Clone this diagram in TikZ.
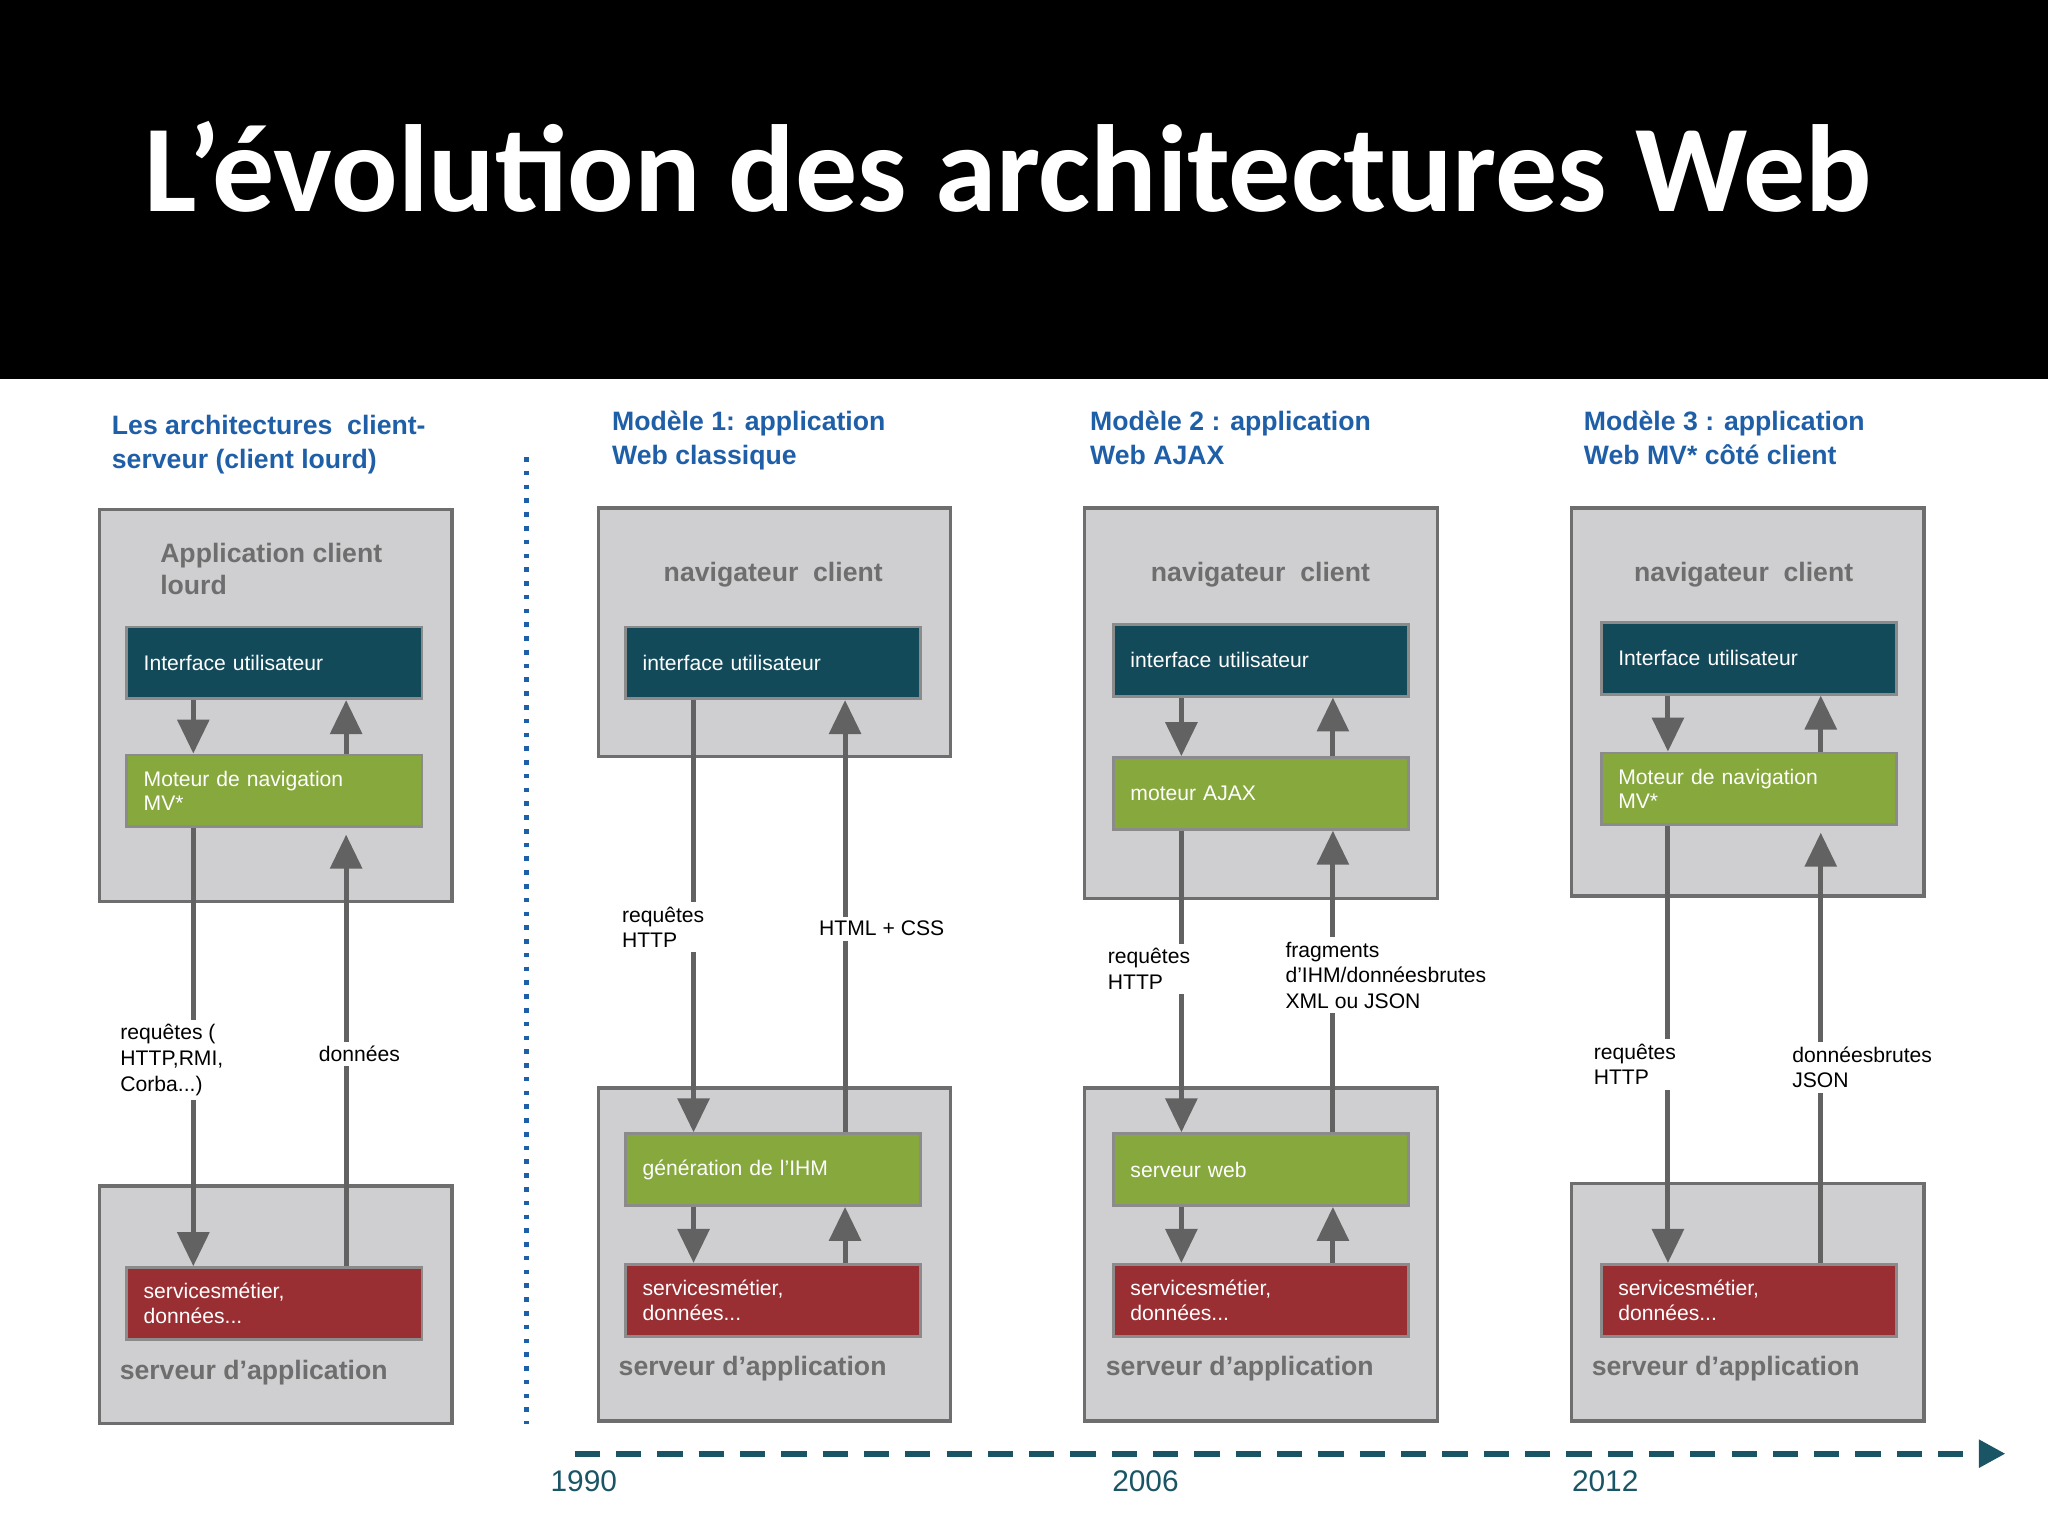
\documentclass[tikz,border=0pt]{standalone}
\usepackage{fontspec}
\setmainfont{Liberation Sans}
\newfontfamily\titlefont{Carlito}
\usetikzlibrary{arrows.meta}
\definecolor{boxgray}{HTML}{CFCFD1}
\definecolor{bordgray}{HTML}{6E6E6E}
\definecolor{ublue}{HTML}{134A5A}
\definecolor{ugreen}{HTML}{86A83C}
\definecolor{ured}{HTML}{9A2F33}
\definecolor{hblue}{HTML}{1F5FA8}
\definecolor{arrgray}{HTML}{626262}
\definecolor{teal}{HTML}{1A5566}
\tikzset{
 outer/.style={draw=bordgray,fill=boxgray,line width=0.7pt,minimum width=2.70cm},
 inner/.style={draw=bordgray!80,line width=0.6pt,minimum width=2.26cm,minimum height=0.55cm,text=white,font=\fontsize{4.6}{5.4}\selectfont,align=left,text width=2.0cm},
 ib/.style={inner,fill=ublue},
 ig/.style={inner,fill=ugreen},
 ir/.style={inner,fill=ured},
 arr/.style={draw=arrgray,line width=1.1pt,-{Triangle[length=2.6mm,width=2.4mm]}},
 lab/.style={fill=white,font=\fontsize{4.6}{5.6}\selectfont,align=left,inner sep=1pt},
 head/.style={anchor=north west,text=hblue,font=\bfseries\fontsize{5.8}{7.4}\selectfont,align=left,inner sep=0pt},
 btitle/.style={text=bordgray,font=\bfseries\fontsize{5.8}{7}\selectfont,align=left,inner sep=0pt},
 year/.style={text=teal,font=\fontsize{6.5}{7}\selectfont}
}
\begin{document}
\begin{tikzpicture}
\useasboundingbox (0,0) rectangle (15.68,11.76);
\fill[white] (0,0) rectangle (15.68,11.76);
\fill[black] (0,8.86) rectangle (15.68,11.76);
\node[text=white,font=\titlefont\bfseries\fontsize{27}{30}\selectfont] (title) at (7.72,10.48) {L’évolution des architectures Web};
% headers
\node[head] (h0) at (0.85,8.59) {Les architectures \ client-\\serveur (client lourd)};
\node[head] (h1) at (4.68,8.62) {Modèle 1: application\\Web classique};
\node[head] (h2) at (8.34,8.62) {Modèle 2 : application\\Web AJAX};
\node[head] (h3) at (12.12,8.62) {Modèle 3 : application\\Web MV* côté client};
\draw[hblue,line width=1pt,dotted] (4.03,8.26) coordinate (d1) -- (4.03,0.86) coordinate (d2);
% column 0
\node[outer,minimum height=3.00cm] (t0) at (2.11,6.36) {};
\node[outer,minimum height=1.82cm] (b0) at (2.11,1.77) {};
\node[btitle,anchor=north west] (tt0) at (1.22,7.61) {Application client\\lourd};
\node[btitle,anchor=west] (bt0) at (0.91,1.25) {serveur d’application};
\node[ib] (u0) at (2.10,6.685) {Interface utilisateur};
\node[ig] (g0) at (2.10,5.705) {Moteur de navigation\\MV*};
\node[ir] (r0) at (2.10,1.78) {servicesmétier,\\données...};
% column 1
\node[outer,minimum height=1.90cm] (t1) at (5.93,6.92) {};
\node[outer,minimum height=2.55cm] (b1) at (5.93,2.155) {};
\node[btitle] (tt1) at (5.92,7.36) {navigateur \ client};
\node[btitle,anchor=west] (bt1) at (4.73,1.28) {serveur d’application};
\node[ib] (u1) at (5.92,6.685) {interface utilisateur};
\node[ig] (g1) at (5.92,2.805) {génération de l'IHM};
\node[ir] (r1) at (5.92,1.805) {servicesmétier,\\données...};
% column 2
\node[outer,minimum height=2.99cm] (t2) at (9.655,6.375) {};
\node[outer,minimum height=2.55cm] (b2) at (9.655,2.155) {};
\node[btitle] (tt2) at (9.65,7.36) {navigateur \ client};
\node[btitle,anchor=west] (bt2) at (8.46,1.28) {serveur d’application};
\node[ib] (u2) at (9.655,6.705) {interface utilisateur};
\node[ig] (g2) at (9.655,5.685) {moteur AJAX};
\node[ig] (s2) at (9.655,2.805) {serveur web};
\node[ir] (r2) at (9.655,1.805) {servicesmétier,\\données...};
% column 3
\node[outer,minimum height=2.97cm] (t3) at (13.38,6.385) {};
\node[outer,minimum height=1.82cm] (b3) at (13.38,1.79) {};
\node[btitle] (tt3) at (13.35,7.36) {navigateur \ client};
\node[btitle,anchor=west] (bt3) at (12.18,1.28) {serveur d’application};
\node[ib] (u3) at (13.39,6.72) {Interface utilisateur};
\node[ig] (g3) at (13.39,5.72) {Moteur de navigation\\MV*};
\node[ir] (r3) at (13.39,1.805) {servicesmétier,\\données...};
% arrows
\draw[arr] ([xshift=-6.2mm]u0.south) -- ([xshift=-6.2mm]g0.north);
\draw[arr] ([xshift=5.5mm]g0.north) -- ([xshift=5.5mm]u0.south);
\draw[arr] ([xshift=-6.2mm]g0.south) -- ([xshift=-6.2mm]r0.north);
\draw[arr] ([xshift=5.5mm]r0.north) -- ([xshift=5.5mm,yshift=-0.5mm]g0.south);
\draw[arr] ([xshift=-6.1mm]u1.south) -- ([xshift=-6.1mm]g1.north);
\draw[arr] ([xshift=5.5mm]g1.north) -- ([xshift=5.5mm]u1.south);
\draw[arr] ([xshift=-6.1mm]g1.south) -- ([xshift=-6.1mm]r1.north);
\draw[arr] ([xshift=5.5mm]r1.north) -- ([xshift=5.5mm]g1.south);
\draw[arr] ([xshift=-6.1mm]u2.south) -- ([xshift=-6.1mm]g2.north);
\draw[arr] ([xshift=5.5mm]g2.north) -- ([xshift=5.5mm]u2.south);
\draw[arr] ([xshift=-6.1mm]g2.south) -- ([xshift=-6.1mm]s2.north);
\draw[arr] ([xshift=5.5mm]s2.north) -- ([xshift=5.5mm]g2.south);
\draw[arr] ([xshift=-6.1mm]s2.south) -- ([xshift=-6.1mm]r2.north);
\draw[arr] ([xshift=5.5mm]r2.north) -- ([xshift=5.5mm]s2.south);
\draw[arr] ([xshift=-6.2mm]u3.south) -- ([xshift=-6.2mm]g3.north);
\draw[arr] ([xshift=5.5mm]g3.north) -- ([xshift=5.5mm]u3.south);
\draw[arr] ([xshift=-6.2mm]g3.south) -- ([xshift=-6.2mm]r3.north);
\draw[arr] ([xshift=5.5mm]r3.north) -- ([xshift=5.5mm,yshift=-0.5mm]g3.south);
% labels
\node[lab,anchor=north west] (l0a) at (0.88,3.96) {requêtes (\\HTTP,RMI,\\Corba...)};
\node[lab,anchor=west] (l0b) at (2.40,3.69) {données};
\node[lab,anchor=north west] (l1a) at (4.72,4.86) {requêtes\\HTTP};
\node[lab,anchor=west] (l1b) at (6.23,4.65) {HTML + CSS};
\node[lab,anchor=north west] (l2a) at (8.44,4.54) {requêtes\\HTTP};
\node[lab,anchor=north west] (l2b) at (9.80,4.59) {fragments\\d'IHM/donnéesbrutes\\XML ou JSON};
\node[lab,anchor=north west] (l3a) at (12.16,3.81) {requêtes\\HTTP};
\node[lab,anchor=north west] (l3b) at (13.68,3.79) {donnéesbrutes\\JSON};
% timeline
\coordinate (ts) at (4.40,0.63);
\coordinate (te) at (15.35,0.63);
\draw[teal,line width=1.3pt,dash pattern=on 5.5pt off 3.5pt] (ts) -- (15.15,0.63);
\fill[teal] (15.15,0.74) -- (te) -- (15.15,0.52) -- cycle;
\node[year] (y1) at (4.47,0.42) {1990};
\node[year] (y2) at (8.77,0.42) {2006};
\node[year] (y3) at (12.29,0.42) {2012};
\end{tikzpicture}
\end{document}
